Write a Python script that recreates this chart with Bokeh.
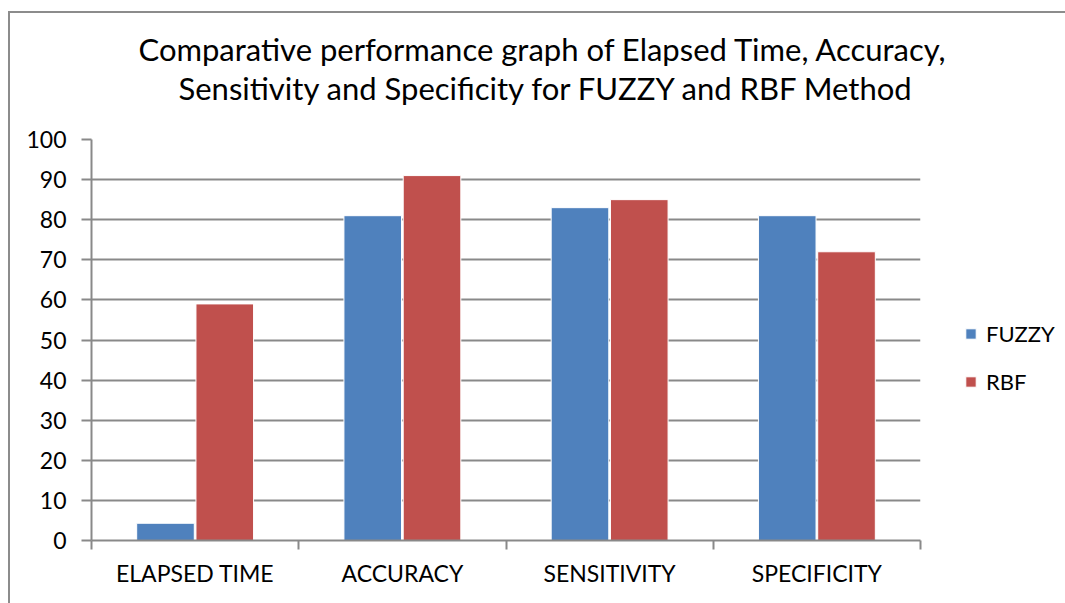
from bokeh.plotting import figure
from bokeh.models import (Range1d, FixedTicker, Legend, LegendItem, ColumnDataSource, Title,
                          InlineStyleSheet)
from bokeh.transform import dodge
from bokeh.embed import file_html
from bokeh.resources import INLINE

categories = ["ELAPSED TIME", "ACCURACY", "SENSITIVITY", "SPECIFICITY"]
fuzzy = [4.3, 81, 83, 81]
rbf = [59, 91, 85, 72]
series_names = ["FUZZY", "RBF"]
colors = ["#4F81BD", "#C0504D"]
y_ticks = list(range(0, 101, 10))
title_lines = ["Comparative performance graph of Elapsed Time, Accuracy,",
               "Sensitivity and Specificity for FUZZY and RBF Method"]

FONT = "Lato"
GRAY = "#898989"

xpos = [i + 0.5 for i in range(len(categories))]
src = ColumnDataSource(dict(x=xpos, fuzzy=fuzzy, rbf=rbf))

p = figure(frame_width=829, frame_height=401, output_backend="svg", toolbar_location=None,
           x_range=Range1d(0, len(categories)), y_range=Range1d(0, 100),
           min_border_left=91, min_border_right=140, min_border_top=139, min_border_bottom=58)
p.outline_line_color = None
p.background_fill_color = "white"
p.border_fill_color = "white"
p.stylesheets = [InlineStyleSheet(css=(
    ":host { position: relative; }"
    ":host::after { content: ''; position: absolute; left: 8px; top: 11px; right: -200px; bottom: -5px;"
    " border-left: 2px solid #8c8c8c; border-top: 2px solid #8c8c8c;"
    " pointer-events: none; z-index: 10; }"))]

r1 = p.vbar(x=dodge("x", -0.143), top="fuzzy", width=0.278, source=src,
            fill_color=colors[0], line_color="white", line_width=1)
r2 = p.vbar(x=dodge("x", 0.143), top="rbf", width=0.278, source=src,
            fill_color=colors[1], line_color="white", line_width=1)

xa = p.xaxis[0]
xa.ticker = FixedTicker(ticks=xpos, minor_ticks=list(range(len(categories) + 1)))
xa.major_label_overrides = {x: c for x, c in zip(xpos, categories)}
xa.major_tick_line_color = None
xa.major_tick_out = 0
xa.major_tick_in = 0
xa.minor_tick_out = 9
xa.minor_tick_in = 0
xa.minor_tick_line_color = GRAY
xa.minor_tick_line_width = 2
xa.axis_line_color = GRAY
xa.axis_line_width = 2
xa.major_label_text_font = FONT
xa.major_label_text_font_size = "23px"
xa.major_label_text_color = "black"
xa.major_label_standoff = 9

ya = p.yaxis[0]
ya.ticker = FixedTicker(ticks=y_ticks)
ya.minor_tick_line_color = None
ya.major_tick_out = 10
ya.major_tick_in = 0
ya.major_tick_line_color = GRAY
ya.major_tick_line_width = 2
ya.axis_line_color = GRAY
ya.axis_line_width = 2
ya.major_label_text_font = FONT
ya.major_label_text_font_size = "23px"
ya.major_label_text_color = "black"
ya.major_label_standoff = 15

p.xgrid.grid_line_color = None
p.ygrid.ticker = FixedTicker(ticks=y_ticks)
p.ygrid.grid_line_color = GRAY
p.ygrid.grid_line_width = 2

p.add_layout(Title(text=title_lines[1], align="left", offset=87, text_font=FONT,
                   text_font_size="31px", text_font_style="normal", text_color="black",
                   standoff=65), "above")
p.add_layout(Title(text=title_lines[0], align="left", offset=47, text_font=FONT,
                   text_font_size="31px", text_font_style="normal", text_color="black",
                   standoff=-67), "above")

legend = Legend(items=[LegendItem(label=series_names[0], renderers=[r1]),
                       LegendItem(label=series_names[1], renderers=[r2])],
                location="center_left", orientation="vertical",
                title=" ", title_text_font=FONT, title_text_font_size="22px", title_standoff=8,
                glyph_width=13, glyph_height=13, label_standoff=9, spacing=21,
                padding=0, margin=44, border_line_color=None, background_fill_alpha=0,
                label_text_font=FONT, label_text_font_size="22px", label_text_color="black")
p.add_layout(legend, "right")

open("out.html", "w").write(file_html(p, INLINE))
